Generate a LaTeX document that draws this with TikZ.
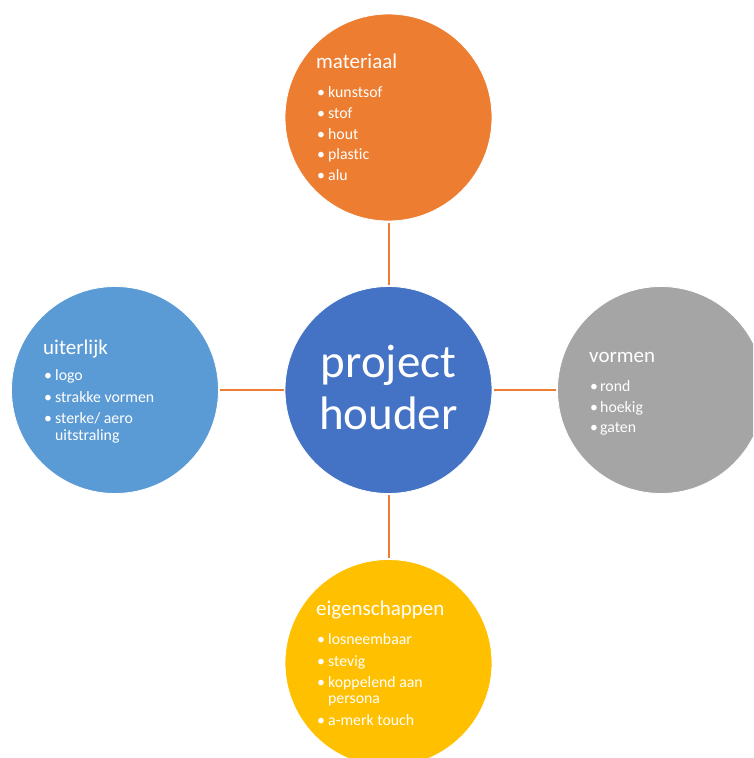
\documentclass[tikz,border=0pt]{standalone}
\usepackage{fontspec}
\setmainfont{Carlito}[Ligatures={NoCommon}]
\definecolor{accOrange}{HTML}{ED7D31}
\definecolor{accBlue}{HTML}{4472C4}
\definecolor{accLight}{HTML}{5B9BD5}
\definecolor{accGray}{HTML}{A5A5A5}
\definecolor{accGold}{HTML}{FFC000}
\tikzset{
  bubble/.style={circle, minimum size=207pt, inner sep=0pt, outer sep=0pt, draw=white, line width=0.8pt},
  conn/.style={draw=accOrange, line width=2pt, shorten <=1.5pt, shorten >=1.5pt},
  ttl/.style={anchor=base west, inner sep=0pt, text=white, font=\fontsize{21}{25}\selectfont},
  itm/.style={anchor=base west, inner sep=0pt, text=white, font=\fontsize{15.8}{17}\selectfont},
  dot/.style={anchor=base west, inner sep=0pt, text=white, font=\fontsize{15.8}{17}\selectfont},
  hubtxt/.style={anchor=base, inner sep=0pt, text=white, font=\fontsize{47}{52}\selectfont}
}
\begin{document}
\begin{tikzpicture}[x=1pt, y=-1pt]
  \useasboundingbox (0,0) rectangle (753,758);
  \begin{scope}
  \clip (0,0) rectangle (753,758);
  % circles
  \node[bubble, fill=accBlue]   (hub) at (388.5,390) {};
  \node[bubble, fill=accOrange] (mat) at (388.5,117.5) {};
  \node[bubble, fill=accLight]  (uit) at (115,390) {};
  \node[bubble, fill=accGray]   (vor) at (661,390) {};
  \node[bubble, fill=accGold]   (eig) at (388.5,663) {};
  % connectors
  \draw[conn] (mat) -- (hub);
  \draw[conn] (uit) -- (hub);
  \draw[conn] (hub) -- (vor);
  \draw[conn] (hub) -- (eig);
  \end{scope}

  % centre text
  \node[hubtxt] (hubA) at (388.5,377) {project};
  \node[hubtxt] (hubB) at (388.5,429) {houder};

  % materiaal
  \node[ttl] (matT) at (316,68) {materiaal};
  \foreach \t/\y [count=\i] in {kunstsof/97, stof/118, hout/139, plastic/159, alu/180} {
    \node[dot] (matD\i) at (317,\y) {•};
    \node[itm] (matI\i) at (328,\y) {\t};
  }

  % uiterlijk
  \node[ttl] (uitT) at (43,354) {uiterlijk};
  \node[dot] (uitD1) at (44,380) {•};
  \node[itm] (uitI1) at (55,380) {logo};
  \node[dot] (uitD2) at (44,402) {•};
  \node[itm] (uitI2) at (55,402) {strakke vormen};
  \node[dot] (uitD3) at (44,423) {•};
  \node[itm] (uitI3) at (55,423) {sterke/ aero};
  \node[itm] (uitI4) at (55,440) {uitstraling};

  % vormen
  \node[ttl] (vorT) at (589,362) {vormen};
  \foreach \t/\y [count=\i] in {rond/391, hoekig/412, gaten/432} {
    \node[dot] (vorD\i) at (590,\y) {•};
    \node[itm] (vorI\i) at (600,\y) {\t};
  }

  % eigenschappen
  \node[ttl] (eigT) at (316,615) {eigenschappen};
  \node[dot] (eigD1) at (317,644) {•};
  \node[itm] (eigI1) at (328,644) {losneembaar};
  \node[dot] (eigD2) at (317,666) {•};
  \node[itm] (eigI2) at (328,666) {stevig};
  \node[dot] (eigD3) at (317,687) {•};
  \node[itm] (eigI3) at (328,687) {koppelend aan};
  \node[itm] (eigI4) at (328,703) {persona};
  \node[dot] (eigD5) at (317,725) {•};
  \node[itm] (eigI5) at (328,725) {a-merk touch};
\end{tikzpicture}
\end{document}
